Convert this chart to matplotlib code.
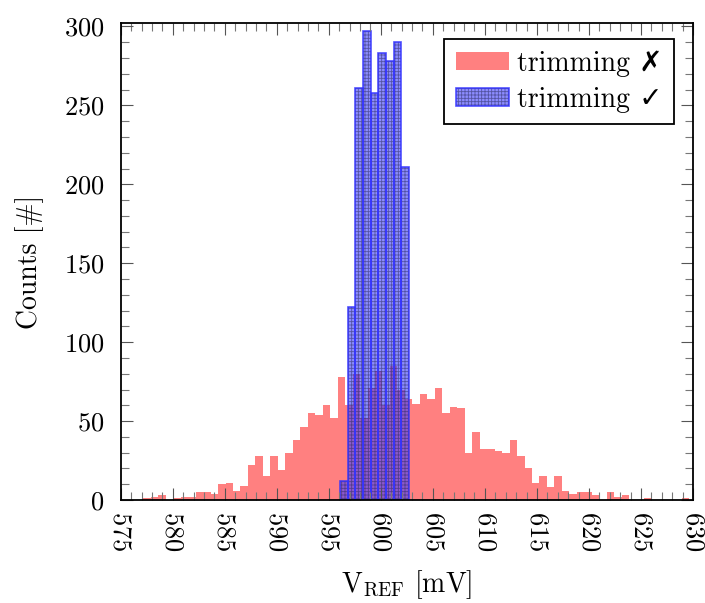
#%%
# =============================================================================
# Dependencies
# =============================================================================
import numpy as np
import matplotlib
matplotlib.use('Agg')
import matplotlib.pyplot as plt
from matplotlib.ticker import MultipleLocator
from matplotlib.legend_handler import HandlerTuple

#%%
# =============================================================================
# Histogram data
# =============================================================================

# without trimming: 73 bins
red_start = 577.17   # mV, left edge of first bin
red_width = 0.7184   # mV
red_counts = [1, 2, 3, 0, 1, 2, 2, 5, 5, 4,
              10, 11, 6, 9, 22, 28, 15, 28, 19, 30,
              38, 46, 55, 54, 60, 52, 78, 60, 80, 52,
              71, 82, 60, 85, 70, 64, 61, 67, 64, 71,
              55, 59, 58, 30, 43, 32, 32, 31, 30, 38,
              28, 20, 11, 15, 8, 15, 6, 4, 5, 5,
              3, 0, 5, 2, 3, 0, 0, 1, 0, 0,
              0, 0, 1]

# with trimming: 9 bins
blue_start = 596.08
blue_width = 0.736
blue_counts = [12, 122, 261, 297, 258, 283, 278, 290, 211]

labels = ['trimming \u2717', 'trimming \u2713']

red_left = red_start + red_width * np.arange(len(red_counts))
blue_left = blue_start + blue_width * np.arange(len(blue_counts))

#%%
# =============================================================================
# Plot
# =============================================================================
plt.rcParams['font.family'] = ['cmr10', 'DejaVu Sans']
plt.rcParams['mathtext.fontset'] = 'cm'
plt.rcParams['axes.formatter.use_mathtext'] = True
plt.rcParams['hatch.linewidth'] = 0.6

fig = plt.figure(figsize=(7.05, 6.03), dpi=100)
ax = fig.add_axes([0.1712, 0.1708, 0.8118, 0.7906])

red = ax.bar(red_left, red_counts, width=red_width, align='edge',
             color='#ff8080', linewidth=0)
blue_fill = ax.bar(blue_left, blue_counts, width=blue_width, align='edge',
                   facecolor=(0.25, 0.25, 1.0, 0.6),
                   edgecolor=(0.15, 0.15, 0.35, 0.55),
                   linewidth=0, hatch='+++++')
blue_edge = ax.bar(blue_left, blue_counts, width=blue_width, align='edge',
                   fill=False, edgecolor=(0.2, 0.2, 1.0, 0.85), linewidth=1.2)

ax.set_xlim(575, 630)
ax.set_ylim(0, 302)
ax.xaxis.set_major_locator(MultipleLocator(5))
ax.xaxis.set_minor_locator(MultipleLocator(1))
ax.yaxis.set_major_locator(MultipleLocator(50))
ax.yaxis.set_minor_locator(MultipleLocator(10))

ax.tick_params(which='both', direction='in', top=True, right=True)
ax.tick_params(which='major', length=8.5, width=0.8, color='#555555', labelsize=19)
ax.tick_params(which='minor', length=5.5, width=0.8, color='#777777')
ax.tick_params(axis='x', labelrotation=-90, pad=8)
ax.tick_params(axis='y', pad=12)
for s in ax.spines.values():
    s.set_linewidth(1.3)

ax.set_xlabel(r'$\mathrm{V}_{\mathrm{REF}}$ [mV]', fontsize=20, labelpad=12)
ax.set_ylabel('Counts [#]', fontsize=20, labelpad=14)

leg = ax.legend([red, (blue_fill, blue_edge)], labels,
                loc='upper right', bbox_to_anchor=(0.967, 0.968),
                borderaxespad=0, fancybox=False, edgecolor='black',
                framealpha=1, fontsize=20, handlelength=1.9,
                handleheight=0.65, handletextpad=0.3, labelspacing=0.35,
                borderpad=0.42,
                handler_map={tuple: HandlerTuple(ndivide=1, pad=0)})
leg.get_frame().set_linewidth(1.3)

fig.savefig('out.png', dpi=100)
